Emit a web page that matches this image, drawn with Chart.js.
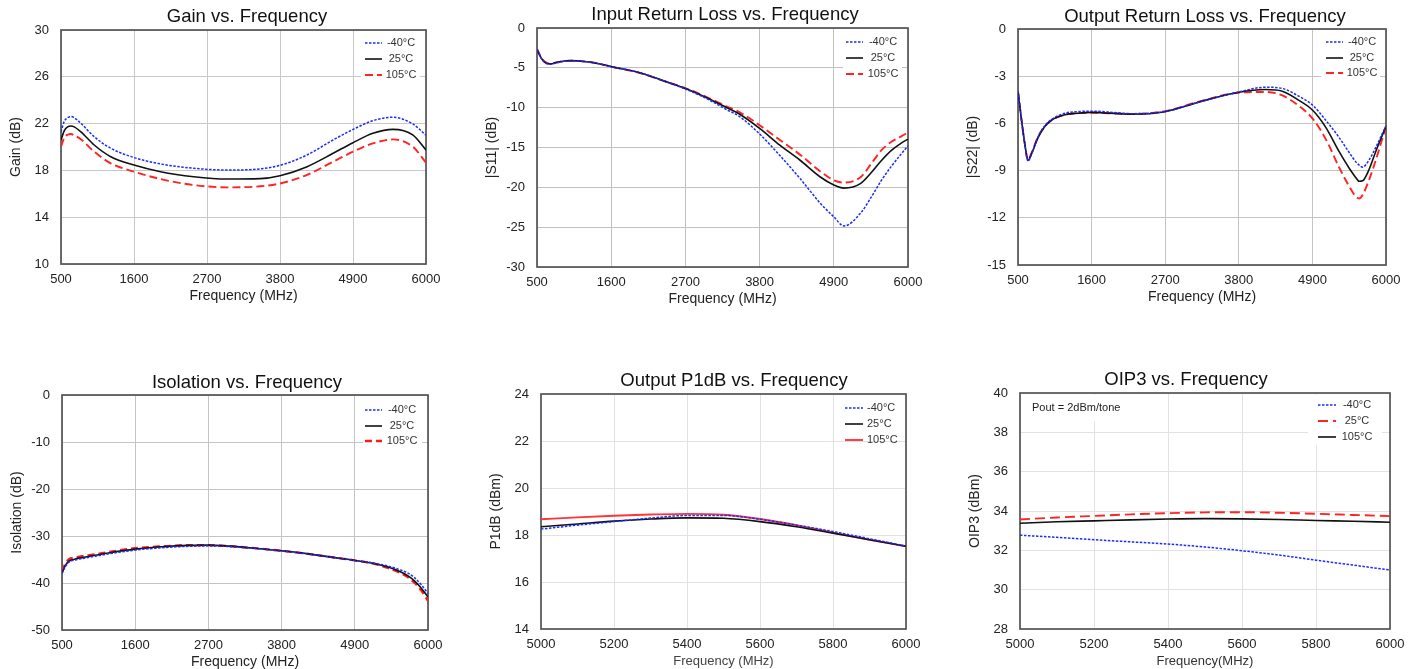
<!DOCTYPE html>
<html>
<head>
<meta charset="utf-8">
<script src="https://cdn.jsdelivr.net/npm/chart.js@4.4.1/dist/chart.umd.min.js"></script>
<style>
  html, body { margin: 0; padding: 0; background: #fff; }
  body { width: 1418px; height: 669px; position: relative; overflow: hidden; }
  .panel { position: absolute; }
</style>
</head>
<body>
<div class="panel" id="p1"><canvas id="c1"></canvas></div>
<div class="panel" id="p2"><canvas id="c2"></canvas></div>
<div class="panel" id="p3"><canvas id="c3"></canvas></div>
<div class="panel" id="p4"><canvas id="c4"></canvas></div>
<div class="panel" id="p5"><canvas id="c5"></canvas></div>
<div class="panel" id="p6"><canvas id="c6"></canvas></div>
<script>
const FONT = "'Liberation Sans', Arial, Helvetica, sans-serif";
const tempLabels = ['-40°C', '25°C', '105°C'];

// Gain vs. Frequency
const freqGain = [500, 550, 600, 650, 700, 800, 1000, 1250, 1600, 2000, 2500, 3000, 3500, 3800, 4200, 4600, 4900, 5200, 5500, 5800, 6000];
const gainM40 = [21.3, 22.2, 22.5, 22.6, 22.5, 22.02, 20.88, 19.89, 19.1, 18.55, 18.18, 18.03, 18.13, 18.43, 19.3, 20.6, 21.5, 22.25, 22.54, 21.97, 21.0];
const gain25 = [20.6, 21.4, 21.72, 21.8, 21.72, 21.3, 20.17, 19.17, 18.46, 17.89, 17.46, 17.26, 17.3, 17.55, 18.3, 19.46, 20.37, 21.17, 21.51, 21.03, 19.74];
const gain105 = [20.03, 20.8, 21.05, 21.11, 21.0, 20.66, 19.6, 18.6, 17.89, 17.26, 16.75, 16.55, 16.64, 16.88, 17.6, 18.74, 19.6, 20.31, 20.65, 20.03, 18.66];

// Input Return Loss vs. Frequency
const freqS11 = [500, 550, 600, 650, 700, 800, 900, 1000, 1200, 1400, 1600, 2000, 2400, 2700, 3000, 3300, 3500, 3800, 4100, 4400, 4700, 4900, 5050, 5300, 5450, 5600, 5750, 5900, 6000];
const s11M40 = [-2.7, -3.6, -4.2, -4.5, -4.55, -4.35, -4.2, -4.15, -4.2, -4.45, -4.85, -5.55, -6.7, -7.65, -8.8, -10.2, -11.1, -13.3, -16.0, -18.9, -22.0, -23.7, -24.85, -23.2, -21.3, -19.2, -17.4, -15.8, -14.8];
const s1125 = [-2.7, -3.6, -4.2, -4.45, -4.5, -4.3, -4.15, -4.1, -4.2, -4.45, -4.85, -5.55, -6.7, -7.6, -8.7, -9.95, -10.8, -12.6, -14.7, -16.6, -18.7, -19.7, -20.1, -19.5, -18.2, -16.7, -15.4, -14.45, -13.95];
const s11105 = [-2.6, -3.5, -4.1, -4.4, -4.45, -4.3, -4.15, -4.1, -4.2, -4.45, -4.85, -5.6, -6.7, -7.55, -8.6, -9.8, -10.55, -12.2, -14.05, -15.9, -18.0, -19.1, -19.4, -18.7, -17.1, -15.4, -14.3, -13.6, -13.1];

// Output Return Loss vs. Frequency
const freqS22 = [500, 550, 600, 650, 700, 800, 900, 1000, 1200, 1400, 1600, 2000, 2200, 2700, 3200, 3800, 4200, 4450, 4700, 4900, 5100, 5300, 5450, 5550, 5600, 5650, 5750, 5850, 5950, 6000];
const s22M40 = [-3.95, -5.7, -7.3, -8.4, -8.0, -6.85, -6.15, -5.75, -5.35, -5.25, -5.22, -5.33, -5.38, -5.24, -4.65, -4.0, -3.7, -3.78, -4.28, -4.83, -5.8, -6.9, -7.85, -8.45, -8.65, -8.78, -8.3, -7.5, -6.6, -6.15];
const s2225 = [-3.95, -5.7, -7.25, -8.35, -7.95, -6.9, -6.2, -5.8, -5.45, -5.35, -5.3, -5.38, -5.42, -5.26, -4.65, -4.02, -3.85, -3.95, -4.54, -5.15, -6.25, -7.8, -8.85, -9.45, -9.68, -9.65, -8.9, -7.75, -6.7, -6.2];
const s22105 = [-3.95, -5.7, -7.25, -8.3, -7.9, -6.85, -6.2, -5.8, -5.45, -5.35, -5.32, -5.38, -5.4, -5.22, -4.62, -4.05, -4.0, -4.22, -4.9, -5.68, -7.0, -8.8, -10.0, -10.65, -10.77, -10.55, -9.55, -8.3, -6.9, -6.2];

// Isolation vs. Frequency
const freqIso = [500, 550, 600, 700, 800, 1000, 1200, 1600, 2000, 2400, 2700, 3000, 3400, 3800, 4200, 4600, 4900, 5200, 5400, 5600, 5700, 5800, 5900, 6000];
const isoM40 = [-38.0, -36.5, -35.6, -35.1, -34.8, -34.3, -33.8, -33.0, -32.5, -32.2, -32.1, -32.25, -32.65, -33.2, -33.85, -34.6, -35.2, -35.8, -36.4, -37.3, -37.9, -38.9, -40.4, -42.2];
const iso25 = [-37.9, -36.3, -35.4, -34.9, -34.6, -34.1, -33.6, -32.8, -32.3, -32.0, -31.95, -32.15, -32.6, -33.15, -33.8, -34.6, -35.2, -35.9, -36.6, -37.7, -38.5, -39.6, -41.1, -43.0];
const iso105 = [-37.5, -35.9, -35.0, -34.6, -34.3, -33.9, -33.4, -32.6, -32.2, -31.95, -31.95, -32.15, -32.6, -33.15, -33.8, -34.6, -35.2, -35.95, -36.8, -38.0, -38.8, -40.0, -41.6, -43.8];

// Output P1dB vs. Frequency
const freqP1 = [5000, 5100, 5200, 5300, 5400, 5500, 5600, 5700, 5800, 5900, 6000];
const p1M40 = [18.25, 18.42, 18.57, 18.72, 18.83, 18.83, 18.67, 18.42, 18.15, 17.84, 17.53];
const p125 = [18.35, 18.47, 18.59, 18.68, 18.73, 18.71, 18.57, 18.35, 18.08, 17.8, 17.52];
const p1105 = [18.67, 18.75, 18.82, 18.87, 18.9, 18.86, 18.68, 18.42, 18.1, 17.8, 17.52];

// OIP3 vs. Frequency
const freqIp3 = [5000, 5100, 5200, 5300, 5400, 5500, 5600, 5700, 5800, 5900, 6000];
const ip3M40 = [32.77, 32.66, 32.54, 32.43, 32.32, 32.17, 31.98, 31.76, 31.5, 31.25, 31.0];
const ip325 = [33.57, 33.67, 33.75, 33.83, 33.89, 33.93, 33.94, 33.91, 33.86, 33.8, 33.74];
const ip3105 = [33.38, 33.45, 33.5, 33.55, 33.59, 33.61, 33.6, 33.57, 33.52, 33.48, 33.43];

// line styles
const blueDot = { borderColor: '#1a2cff', borderWidth: 1.5, borderDash: [2.5, 1.5] };
const blackSolid = { borderColor: '#111111', borderWidth: 1.6, borderDash: [] };
const redDash = { borderColor: '#ff2424', borderWidth: 1.9, borderDash: [8, 4] };
const redSolid = { borderColor: '#ff3535', borderWidth: 1.9, borderDash: [] };

function series(label, xs, ys, style) {
  return {
    label,
    data: xs.map((x, i) => ({ x, y: ys[i] })),
    ...style,
    pointRadius: 0,
    fill: false,
    cubicInterpolationMode: 'monotone'
  };
}

// draws title, frame, in-plot legend and notes
const panelDecor = {
  id: 'panelDecor',
  beforeDatasetsDraw(chart, args, o) {
    const { ctx, chartArea: a } = chart;
    ctx.save();
    ctx.fillStyle = '#fff';
    (o.boxes || []).forEach(b => {
      const x = b.fromRight ? a.right - b.x : a.left + b.x;
      ctx.fillRect(x, a.top + b.y, b.w, b.h);
    });
    ctx.strokeStyle = '#555';
    ctx.lineWidth = 1.7;
    ctx.strokeRect(a.left, a.top, a.right - a.left, a.bottom - a.top);

    const lg = o.legend;
    ctx.font = '11px ' + FONT;
    ctx.textBaseline = 'middle';
    chart.data.datasets.forEach((d, i) => {
      const y = a.top + lg.rows[i];
      ctx.beginPath();
      ctx.strokeStyle = d.borderColor;
      ctx.lineWidth = d.borderWidth;
      ctx.setLineDash(d.borderDash || []);
      ctx.moveTo(a.right - lg.line[0], y);
      ctx.lineTo(a.right - lg.line[1], y);
      ctx.stroke();
      ctx.setLineDash([]);
      ctx.fillStyle = '#333';
      ctx.textAlign = lg.align;
      ctx.fillText(d.label, a.right - lg.text, y);
    });
    if (o.note) {
      ctx.textAlign = 'left';
      ctx.fillStyle = '#222';
      ctx.fillText(o.note.text, a.left + o.note.x, a.top + o.note.y);
    }
    ctx.restore();
  },
  afterDraw(chart, args, o) {
    const { ctx } = chart;
    ctx.save();
    ctx.font = '18.5px ' + FONT;
    ctx.fillStyle = '#111';
    ctx.textAlign = 'center';
    ctx.textBaseline = 'middle';
    ctx.fillText(o.title.text, o.title.x, o.title.y);
    ctx.restore();
  }
};

function makePanel(n, p) {
  const left = p.L - 60, top = p.T - 30;
  const w = p.R - p.L + 85, h = p.B - p.T + 72;
  const box = document.getElementById('p' + n);
  box.style.left = left + 'px';
  box.style.top = top + 'px';
  const cv = document.getElementById('c' + n);
  cv.width = w; cv.height = h;
  cv.style.width = w + 'px'; cv.style.height = h + 'px';

  const tickFont = { family: FONT, size: 13 };
  new Chart(cv.getContext('2d'), {
    type: 'line',
    data: { datasets: p.datasets },
    options: {
      responsive: false,
      animation: false,
      layout: { padding: { top: 30, right: 25, left: 0, bottom: 0 } },
      plugins: {
        legend: { display: false },
        tooltip: { enabled: false },
        panelDecor: {
          title: { text: p.title, x: p.tx - left, y: p.ty - top },
          legend: p.legend,
          boxes: p.boxes,
          note: p.note
        }
      },
      scales: {
        x: {
          type: 'linear',
          min: p.xMin, max: p.xMax,
          ticks: { stepSize: p.xStep, autoSkip: false, maxRotation: 0, padding: 8, color: '#222', font: tickFont, callback: v => String(v) },
          grid: { color: p.grid, lineWidth: 1, drawTicks: false },
          border: { display: false },
          title: { display: true, text: p.xTitle, color: p.xTitleColor || '#222', font: { family: FONT, size: p.xTitleSize || 14 }, padding: { top: 0, bottom: 1.5 } },
          afterFit(s) { s.height = 42; }
        },
        y: {
          min: p.yMin, max: p.yMax,
          ticks: { stepSize: p.yStep, padding: 12, color: '#222', font: tickFont, callback: v => String(v) },
          grid: { color: p.grid, lineWidth: 1, drawTicks: false },
          border: { display: false },
          title: { display: true, text: p.yTitle, color: '#222', font: { family: FONT, size: 14 }, padding: { top: 7, bottom: 0 } },
          afterFit(s) { s.width = 60; }
        }
      }
    },
    plugins: [panelDecor]
  });
}

const stdBox = [{ fromRight: true, x: 65, y: 2, w: 59, h: 50 }];

makePanel(1, {
  L: 61, R: 426, T: 30, B: 264, title: 'Gain vs. Frequency', tx: 247, ty: 17,
  xMin: 500, xMax: 6000, xStep: 1100, yMin: 10, yMax: 30, yStep: 4,
  xTitle: 'Frequency (MHz)', yTitle: 'Gain (dB)', grid: '#c8c8c8',
  datasets: [
    series(tempLabels[0], freqGain, gainM40, blueDot),
    series(tempLabels[1], freqGain, gain25, blackSolid),
    series(tempLabels[2], freqGain, gain105, redDash)
  ],
  legend: { line: [61, 44], text: 25, align: 'center', rows: [13, 29, 45] },
  boxes: stdBox
});

makePanel(2, {
  L: 537, R: 908, T: 28, B: 267, title: 'Input Return Loss vs. Frequency', tx: 725, ty: 15,
  xMin: 500, xMax: 6000, xStep: 1100, yMin: -30, yMax: 0, yStep: 5,
  xTitle: 'Frequency (MHz)', yTitle: '|S11| (dB)', grid: '#c0c0c0',
  datasets: [
    series(tempLabels[0], freqS11, s11M40, blueDot),
    series(tempLabels[1], freqS11, s1125, blackSolid),
    series(tempLabels[2], freqS11, s11105, redDash)
  ],
  legend: { line: [62, 45], text: 25, align: 'center', rows: [14, 30, 46] },
  boxes: stdBox
});

makePanel(3, {
  L: 1018, R: 1386, T: 29, B: 265, title: 'Output Return Loss vs. Frequency', tx: 1205, ty: 17,
  xMin: 500, xMax: 6000, xStep: 1100, yMin: -15, yMax: 0, yStep: 3,
  xTitle: 'Frequency (MHz)', yTitle: '|S22| (dB)', grid: '#c4c4c4',
  datasets: [
    series(tempLabels[0], freqS22, s22M40, blueDot),
    series(tempLabels[1], freqS22, s2225, blackSolid),
    series(tempLabels[2], freqS22, s22105, redDash)
  ],
  legend: { line: [60, 43], text: 24, align: 'center', rows: [13, 29, 44] },
  boxes: stdBox
});

makePanel(4, {
  L: 62, R: 428, T: 395, B: 630, title: 'Isolation vs. Frequency', tx: 247, ty: 383,
  xMin: 500, xMax: 6000, xStep: 1100, yMin: -50, yMax: 0, yStep: 10,
  xTitle: 'Frequency (MHz)', yTitle: 'Isolation (dB)', grid: '#c4c4c4',
  datasets: [
    series(tempLabels[0], freqIso, isoM40, blueDot),
    series(tempLabels[1], freqIso, iso25, blackSolid),
    series(tempLabels[2], freqIso, iso105, { borderColor: '#ff1a1a', borderWidth: 2.3, borderDash: [7, 4] })
  ],
  legend: { line: [63, 46], text: 26, align: 'center', rows: [15, 31, 46] },
  boxes: stdBox
});

makePanel(5, {
  L: 541, R: 906, T: 394, B: 629, title: 'Output P1dB vs. Frequency', tx: 734, ty: 381,
  xMin: 5000, xMax: 6000, xStep: 200, yMin: 14, yMax: 24, yStep: 2,
  xTitle: 'Frequency (MHz)', xTitleSize: 13, xTitleColor: '#444', yTitle: 'P1dB (dBm)', grid: '#e2e2e2',
  datasets: [
    series(tempLabels[0], freqP1, p1M40, blueDot),
    series(tempLabels[1], freqP1, p125, blackSolid),
    series(tempLabels[2], freqP1, p1105, redSolid)
  ],
  legend: { line: [61, 43], text: 39, align: 'left', rows: [14, 30, 46] },
  boxes: []
});

makePanel(6, {
  L: 1020, R: 1390, T: 393, B: 629, title: 'OIP3 vs. Frequency', tx: 1186, ty: 380,
  xMin: 5000, xMax: 6000, xStep: 200, yMin: 28, yMax: 40, yStep: 2,
  xTitle: 'Frequency(MHz)', xTitleSize: 13, xTitleColor: '#333', yTitle: 'OIP3 (dBm)', grid: '#e2e2e2',
  datasets: [
    series(tempLabels[0], freqIp3, ip3M40, blueDot),
    series(tempLabels[1], freqIp3, ip325, { borderColor: '#ff2424', borderWidth: 1.9, borderDash: [10, 5] }),
    series(tempLabels[2], freqIp3, ip3105, blackSolid)
  ],
  legend: { line: [72, 54], text: 33, align: 'center', rows: [12, 28, 44] },
  boxes: [{ fromRight: true, x: 82, y: 2, w: 74, h: 50 }, { fromRight: false, x: 4, y: 2, w: 106, h: 26 }],
  note: { text: 'Pout = 2dBm/tone', x: 12, y: 15 }
});
</script>
</body>
</html>
